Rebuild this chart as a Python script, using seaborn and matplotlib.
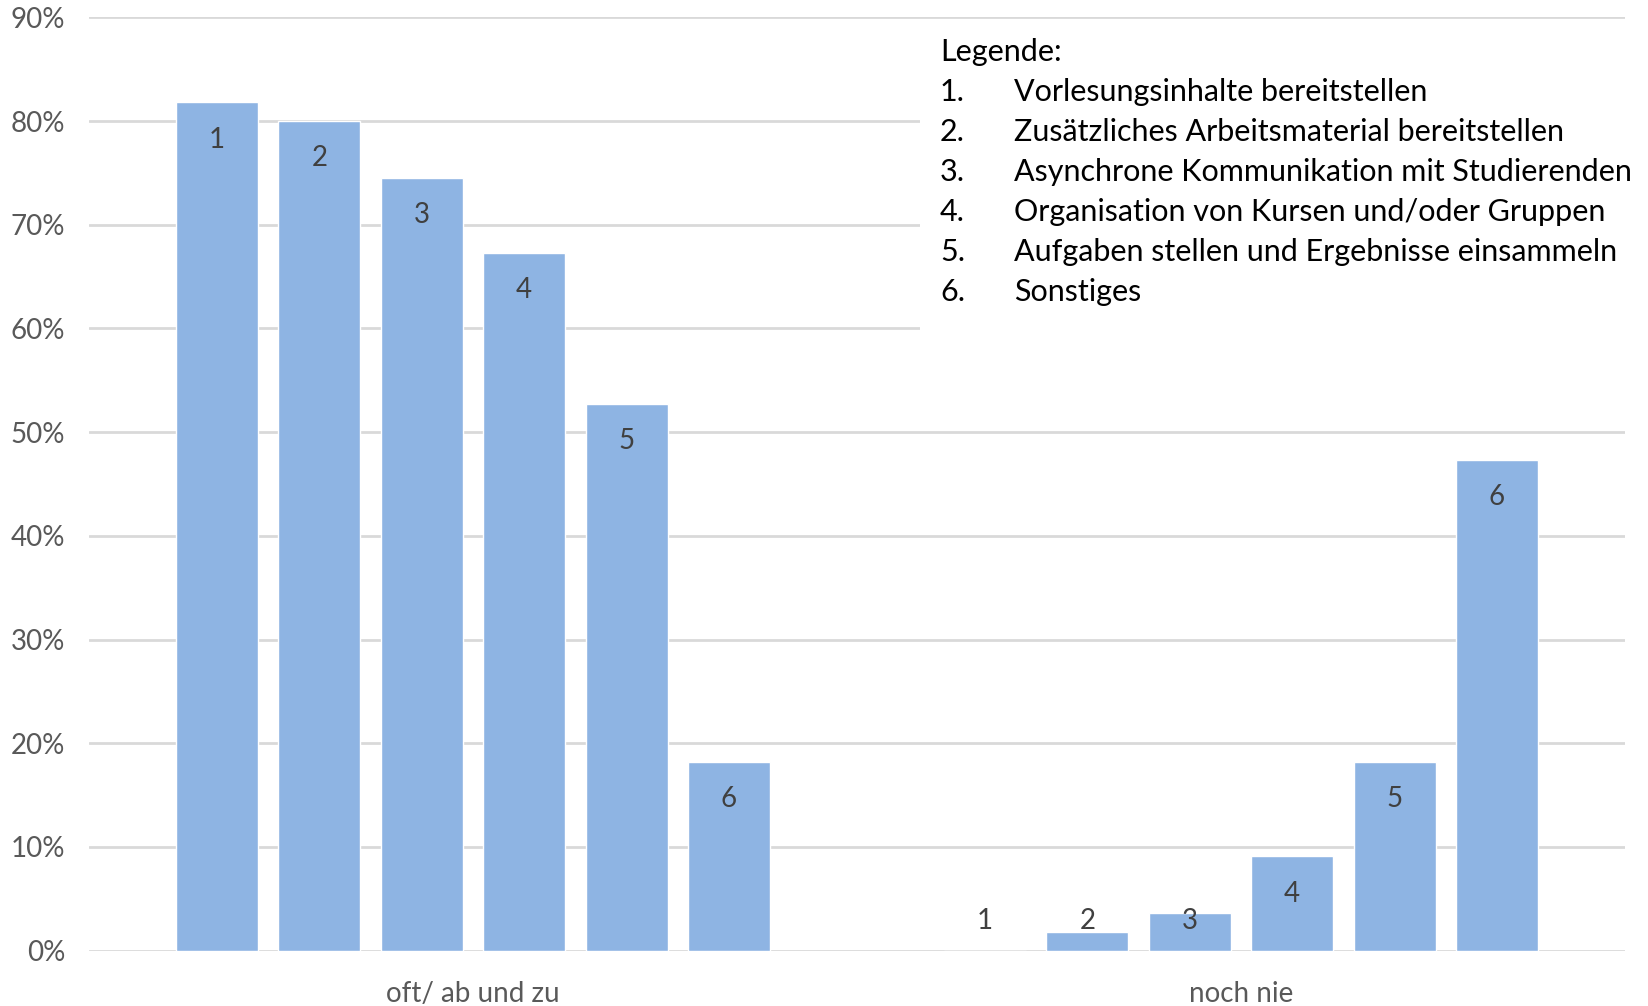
import matplotlib
matplotlib.use("Agg")
import matplotlib.pyplot as plt
import seaborn as sns
import pandas as pd
from matplotlib.patches import Rectangle

# Survey data: share of respondents (in %) per usage item
categories = ["oft/ ab und zu", "noch nie"]
item_numbers = ["1", "2", "3", "4", "5", "6"]
share_often = [81.8, 80.0, 74.5, 67.3, 52.7, 18.2]
share_never = [0.0, 1.8, 3.6, 9.1, 18.2, 47.3]
y_ticks = [0, 10, 20, 30, 40, 50, 60, 70, 80, 90]
legend_title = "Legende:"
legend_items = [
    "Vorlesungsinhalte bereitstellen",
    "Zusätzliches Arbeitsmaterial bereitstellen",
    "Asynchrone Kommunikation mit Studierenden",
    "Organisation von Kursen und/oder Gruppen",
    "Aufgaben stellen und Ergebnisse einsammeln",
    "Sonstiges",
]

df = pd.DataFrame({
    "Kategorie": [categories[0]] * len(item_numbers) + [categories[1]] * len(item_numbers),
    "Nr": item_numbers * 2,
    "Anteil": share_often + share_never,
})

sns.set_theme(style="white")
plt.rcParams["font.family"] = ["Lato", "DejaVu Sans"]

W, H = 1649, 1006
fig = plt.figure(figsize=(W / 100, H / 100), dpi=100)
ax = fig.add_axes([89 / W, 1 - 950.7 / H, (1625 - 89) / W, (950.7 - 17.3) / H])

bar_color = "#8EB4E3"
sns.barplot(data=df, x="Kategorie", y="Anteil", hue="Nr", order=categories,
            hue_order=item_numbers, palette=[bar_color] * len(item_numbers),
            saturation=1, width=0.8, gap=0.2, legend=False, ax=ax, zorder=2)

# number labels inside the top of each bar
label_size = 20
for nr, container in zip(item_numbers, ax.containers):
    for patch in container:
        h = patch.get_height()
        x = patch.get_x() + patch.get_width() / 2
        ax.text(x, max(h - 3.6, 2.9), nr, ha="center", va="center",
                fontsize=label_size, color="#404040", zorder=3)

ax.set_ylim(0, 90)
ax.set_yticks(y_ticks)
ax.set_yticklabels([f"{t}%" for t in y_ticks])
ax.yaxis.grid(True, color="#D9D9D9", linewidth=2)
ax.set_axisbelow(True)
for s in ax.spines.values():
    s.set_visible(False)
ax.tick_params(axis="y", length=0, pad=17, labelsize=20, labelcolor="#595959")
ax.tick_params(axis="x", length=0, pad=22, labelsize=20, labelcolor="#595959")
ax.set_xlabel("")
ax.set_ylabel("")

# legend block on white background
rect = Rectangle((920 / W, 1 - 340 / H), (W - 920) / W, (340 - 28) / H,
                 transform=fig.transFigure, facecolor="white", edgecolor="none", zorder=5)
fig.add_artist(rect)
leg_size = 22
fig.text(940 / W, 1 - 51.7 / H, legend_title, va="center", ha="left",
         fontsize=leg_size, color="black", zorder=6)
for i, item in enumerate(legend_items):
    y = 1 - (91.7 + 40 * i) / H
    fig.text(940 / W, y, f"{i + 1}.", va="center", ha="left", fontsize=leg_size, color="black", zorder=6)
    fig.text(1014 / W, y, item, va="center", ha="left", fontsize=leg_size, color="black", zorder=6)

fig.savefig("out.png", dpi=100, facecolor="white")
